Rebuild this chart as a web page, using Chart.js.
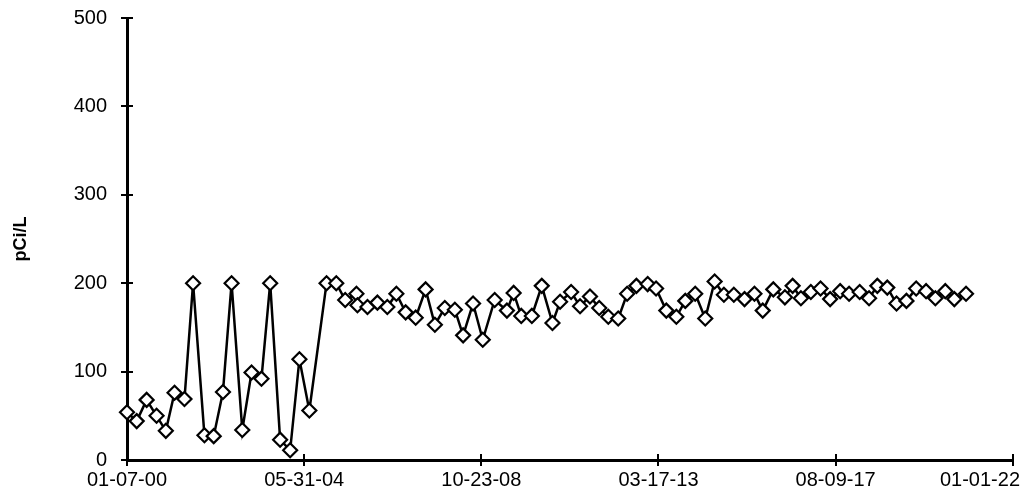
<!DOCTYPE html>
<html><head><meta charset="utf-8">
<script src="https://cdn.jsdelivr.net/npm/chart.js@4/dist/chart.umd.min.js"></script>
<style>html,body{margin:0;padding:0;background:#fff}#wrap{width:1022px;height:498px}</style>
</head><body><div id="wrap"><canvas id="c" width="1022" height="498"></canvas></div>
<script>
// Sampling dates as days since 01-07-00
const sampleDays = [0,88,178,268,352,431,521,599,702,786,870,948,1045,1129,1219,1298,1388,1479,1563,1653,
  1809,1897,1978,2080,2089,2180,2270,2360,2442,2526,2617,2707,2791,2881,2972,3047,3137,3225,3333,3444,
  3505,3574,3670,3760,3857,3926,4026,4107,4197,4281,4363,4453,4534,4618,4720,4796,4889,4980,5061,5151,
  5242,5327,5411,5501,5598,5688,5763,5859,5964,6034,6109,6199,6287,6374,6465,6546,6642,6727,6802,6892,
  6976,7066,7154,7244,7328,7418,7500,7606];
// Concentration, pCi/L
const concentrations = [54,44,68,50,33,76,69,200,28,27,77,200,34,99,92,200,23,11,114,56,
  200,200,181,188,175,173,178,173,188,167,161,193,153,172,170,141,177,136,181,169,
  189,163,163,197,155,179,190,174,185,172,162,160,188,197,199,194,169,162,180,188,
  160,202,187,187,182,188,169,193,184,197,183,190,194,182,191,188,190,183,197,195,
  177,180,194,191,183,191,182,188];
const xTickDays = [0,1606,3212,4818,6424,8030];
const xTickLabels = ['01-07-00','05-31-04','10-23-08','03-17-13','08-09-17','01-01-22'];
const yTickValues = [0,100,200,300,400,500];
const yAxisTitle = 'pCi/L';

const FONT = '"Liberation Sans", Arial, sans-serif';

const tickPlugin = {
  id: 'tickPlugin',
  beforeDatasetsDraw(chart) {
    const ctx = chart.ctx, ca = chart.chartArea;
    const xs = chart.scales.x, ys = chart.scales.y;
    ctx.save();
    ctx.strokeStyle = '#000';
    ctx.lineWidth = 2;
    ctx.beginPath();
    yTickValues.forEach(v => {
      const py = Math.round(ys.getPixelForValue(v));
      ctx.moveTo(ca.left - 6, py); ctx.lineTo(ca.left + 6, py);
    });
    xTickDays.forEach(d => {
      const px = Math.round(xs.getPixelForValue(d));
      ctx.moveTo(px, ca.bottom - 6); ctx.lineTo(px, ca.bottom + 6);
    });
    ctx.stroke();
    ctx.restore();
  },
  afterDraw(chart) {
    const ctx = chart.ctx, ca = chart.chartArea;
    const xs = chart.scales.x;
    ctx.save();
    ctx.fillStyle = '#000';
    ctx.font = '20px ' + FONT;
    ctx.textBaseline = 'top';
    xTickDays.forEach((d, i) => {
      const px = xs.getPixelForValue(d);
      const w = ctx.measureText(xTickLabels[i]).width;
      let left = px - w / 2;
      if (left + w > chart.width - 2) left = chart.width - 2 - w;
      ctx.fillText(xTickLabels[i], left, ca.bottom + 10);
    });
    ctx.restore();
  }
};

new Chart(document.getElementById('c'), {
  type: 'line',
  data: {
    datasets: [{
      data: sampleDays.map((d, i) => ({x: d, y: concentrations[i]})),
      borderColor: '#000',
      borderWidth: 2.5,
      pointStyle: 'rectRot',
      pointRadius: 7,
      pointBackgroundColor: '#fff',
      pointBorderColor: '#000',
      pointBorderWidth: 2.2,
      tension: 0,
      clip: false
    }]
  },
  options: {
    responsive: false,
    animation: false,
    devicePixelRatio: 1,
    layout: {padding: {top: 18, right: 6, left: 0, bottom: 0}},
    plugins: {legend: {display: false}, tooltip: {enabled: false}},
    scales: {
      x: {
        type: 'linear', min: 0, max: 8030,
        grid: {display: false},
        border: {display: true, color: '#000', width: 3},
        ticks: {display: false},
        afterFit(s) { s.height = 38; s.paddingLeft = 0; s.paddingRight = 0; }
      },
      y: {
        min: 0, max: 500,
        afterBuildTicks(s) { s.ticks = yTickValues.map(v => ({value: v})); },
        grid: {display: false},
        border: {display: true, color: '#000', width: 3},
        ticks: {color: '#000', font: {family: FONT, size: 20}, padding: 12},
        title: {display: true, text: yAxisTitle, color: '#000', font: {family: FONT, size: 18, weight: 'bold'}, padding: {top: 10, bottom: 0}},
        afterFit(s) { s.width = 127; s.paddingTop = 0; s.paddingBottom = 0; }
      }
    }
  },
  plugins: [tickPlugin]
});
</script>
</body></html>
